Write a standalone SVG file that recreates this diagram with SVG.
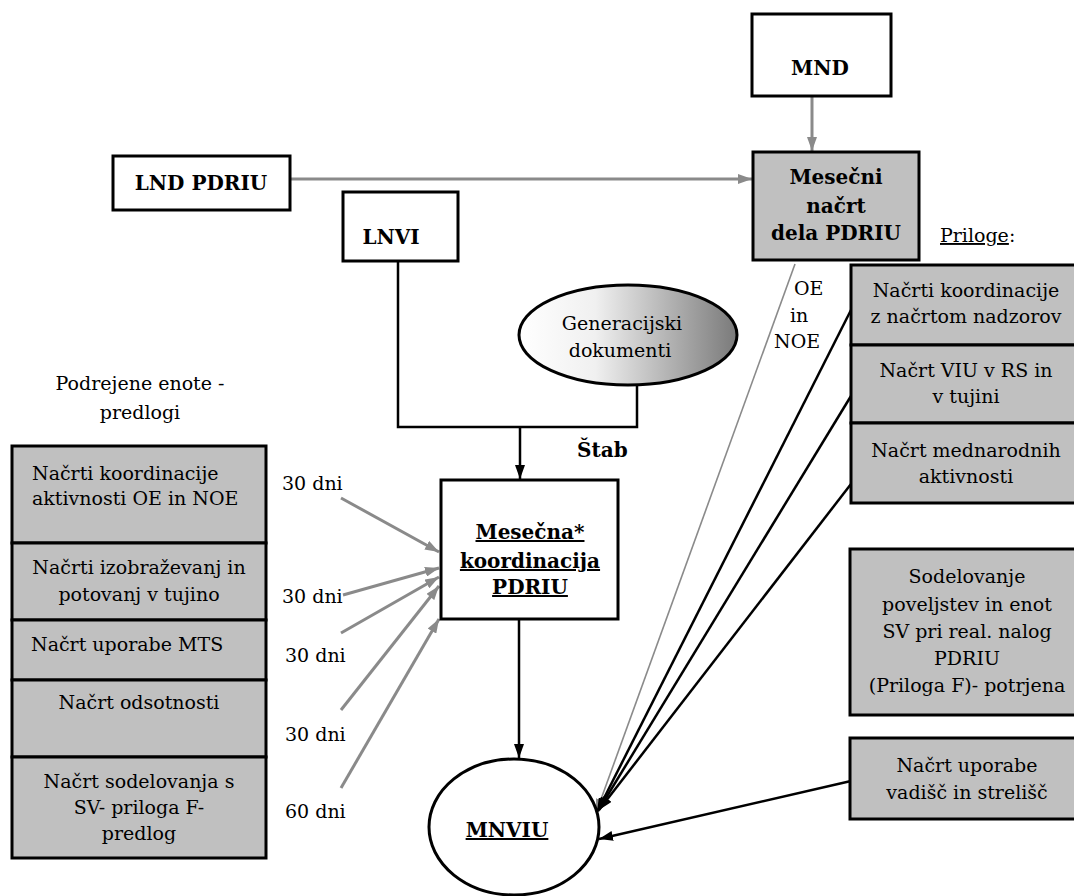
<svg xmlns="http://www.w3.org/2000/svg" width="1074" height="896" viewBox="0 0 1074 896" font-family="'DejaVu Serif', 'Liberation Serif', serif">
<style>
.box{fill:#fff;stroke:#000;stroke-width:3}
.gbox{fill:#c0c0c0;stroke:#000;stroke-width:3}
.t{font-size:19px;fill:#000}
.b{font-size:20px;font-weight:bold;fill:#000}
.m{text-anchor:middle}
.u{text-decoration:underline}
.gl{stroke:#8a8a8a;stroke-width:3;fill:none}
.gt{stroke:#8a8a8a;stroke-width:1.6;fill:none}
.bl{stroke:#000;stroke-width:2.5;fill:none}
</style>
<defs>
<marker id="ag" viewBox="0 0 14 10" refX="14" refY="5" markerWidth="14" markerHeight="10" markerUnits="userSpaceOnUse" orient="auto"><path d="M0,0 L14,5 L0,10 z" fill="#8a8a8a"/></marker>
<marker id="ab" viewBox="0 0 14 10" refX="14" refY="5" markerWidth="14" markerHeight="10" markerUnits="userSpaceOnUse" orient="auto"><path d="M0,0 L14,5 L0,10 z" fill="#000"/></marker>
<linearGradient id="gen" x1="0" y1="0" x2="1" y2="0"><stop offset="0" stop-color="#ffffff"/><stop offset="0.35" stop-color="#f0f0f0"/><stop offset="1" stop-color="#7a7a7a"/></linearGradient>
</defs>

<g id="connectors">
<line class="gl" x1="812" y1="96" x2="812" y2="151" marker-end="url(#ag)"/>
<line class="gl" x1="290" y1="179" x2="752" y2="179" marker-end="url(#ag)"/>
<polyline class="bl" points="398,261 398,427 637,427 637,385"/>
<line class="bl" x1="520" y1="427" x2="520" y2="479" marker-end="url(#ab)"/>
<line class="bl" x1="519" y1="619" x2="519" y2="758" marker-end="url(#ab)"/>
<line class="gl" x1="341" y1="498" x2="439" y2="552" marker-end="url(#ag)"/>
<line class="gl" x1="343" y1="595" x2="439" y2="568" marker-end="url(#ag)"/>
<line class="gl" x1="341" y1="633" x2="439" y2="577" marker-end="url(#ag)"/>
<line class="gl" x1="341" y1="710" x2="439" y2="586" marker-end="url(#ag)"/>
<line class="gl" x1="341" y1="788" x2="439" y2="619" marker-end="url(#ag)"/>
<line class="gt" x1="795" y1="264" x2="596" y2="813" marker-end="url(#ag)"/>
<line class="bl" x1="851" y1="310" x2="597" y2="812" marker-end="url(#ab)"/>
<line class="bl" x1="851" y1="396" x2="598" y2="811" marker-end="url(#ab)"/>
<line class="bl" x1="851" y1="484" x2="599" y2="810" marker-end="url(#ab)"/>
<line class="bl" x1="851" y1="781" x2="599" y2="839" marker-end="url(#ab)"/>
</g>

<g id="mnd"><rect class="box" x="752" y="14" width="139" height="82"/><text class="b m" x="820" y="75">MND</text></g>
<g id="lnd-pdriu"><rect class="box" x="113" y="156" width="177" height="54"/><text class="b m" x="201" y="190">LND PDRIU</text></g>
<g id="lnvi"><rect class="box" x="343" y="192" width="115" height="69"/><text class="b m" x="391" y="244">LNVI</text></g>
<g id="mesecni-nacrt"><rect class="gbox" x="753" y="152" width="166" height="108"/>
<text class="b m" x="836" y="184">Mesečni</text><text class="b m" x="836" y="213">načrt</text><text class="b m" x="836" y="240">dela PDRIU</text></g>
<g id="priloge"><text class="t" x="940" y="242"><tspan class="u">Priloge</tspan>:</text></g>
<g id="oe-noe"><text class="t" x="794" y="295">OE</text><text class="t" x="790" y="322">in</text><text class="t" x="774" y="348">NOE</text></g>
<g id="generacijski"><ellipse cx="628" cy="335" rx="109" ry="50" fill="url(#gen)" stroke="#000" stroke-width="3"/>
<text class="t m" x="622" y="330">Generacijski</text><text class="t m" x="620" y="357">dokumenti</text></g>
<g id="stab"><text class="b" x="577" y="457">Štab</text></g>
<g id="mesecna-koordinacija"><rect class="box" x="441" y="480" width="177" height="139"/>
<text class="b m u" x="530" y="539">Mesečna*</text><text class="b m u" x="530" y="568">koordinacija</text><text class="b m u" x="530" y="594">PDRIU</text></g>
<g id="mnviu"><ellipse cx="514" cy="827" rx="85" ry="68" fill="#fff" stroke="#000" stroke-width="3"/><text class="b m u" x="507" y="837">MNVIU</text></g>

<g id="podrejene"><text class="t m" x="140" y="390">Podrejene enote -</text><text class="t m" x="140" y="419">predlogi</text></g>
<g id="left-stack">
<rect class="gbox" x="12" y="446" width="254" height="97"/>
<text class="t" x="32" y="480">Načrti koordinacije</text><text class="t" x="32" y="505">aktivnosti OE in NOE</text>
<rect class="gbox" x="12" y="543" width="254" height="77"/>
<text class="t m" x="139" y="574">Načrti izobraževanj in</text><text class="t m" x="139" y="601">potovanj v tujino</text>
<rect class="gbox" x="12" y="620" width="254" height="60"/>
<text class="t" x="31" y="651">Načrt uporabe MTS</text>
<rect class="gbox" x="12" y="680" width="254" height="77"/>
<text class="t m" x="139" y="709">Načrt odsotnosti</text>
<rect class="gbox" x="12" y="757" width="254" height="101"/>
<text class="t m" x="139" y="788">Načrt sodelovanja s</text><text class="t m" x="139" y="814">SV- priloga F-</text><text class="t m" x="139" y="840">predlog</text>
</g>
<g id="days">
<text class="t" x="282" y="490">30 dni</text>
<text class="t" x="282" y="603">30 dni</text>
<text class="t" x="285" y="662">30 dni</text>
<text class="t" x="285" y="741">30 dni</text>
<text class="t" x="285" y="818">60 dni</text>
</g>
<g id="right-stack">
<rect class="gbox" x="851" y="265" width="232" height="80"/>
<text class="t m" x="966" y="297">Načrti koordinacije</text><text class="t m" x="966" y="323">z načrtom nadzorov</text>
<rect class="gbox" x="851" y="345" width="232" height="78"/>
<text class="t m" x="966" y="377">Načrt VIU v RS in</text><text class="t m" x="966" y="403">v tujini</text>
<rect class="gbox" x="851" y="423" width="232" height="80"/>
<text class="t m" x="966" y="457">Načrt mednarodnih</text><text class="t m" x="966" y="483">aktivnosti</text>
</g>
<g id="sodelovanje"><rect class="gbox" x="850" y="549" width="233" height="166"/>
<text class="t m" x="967" y="583">Sodelovanje</text><text class="t m" x="967" y="611">poveljstev in enot</text><text class="t m" x="967" y="638">SV pri real. nalog</text><text class="t m" x="967" y="665">PDRIU</text><text class="t m" x="967" y="692">(Priloga F)- potrjena</text></g>
<g id="vadisca"><rect class="gbox" x="850" y="738" width="233" height="81"/>
<text class="t m" x="967" y="772">Načrt uporabe</text><text class="t m" x="967" y="799">vadišč in strelišč</text></g>
</svg>
